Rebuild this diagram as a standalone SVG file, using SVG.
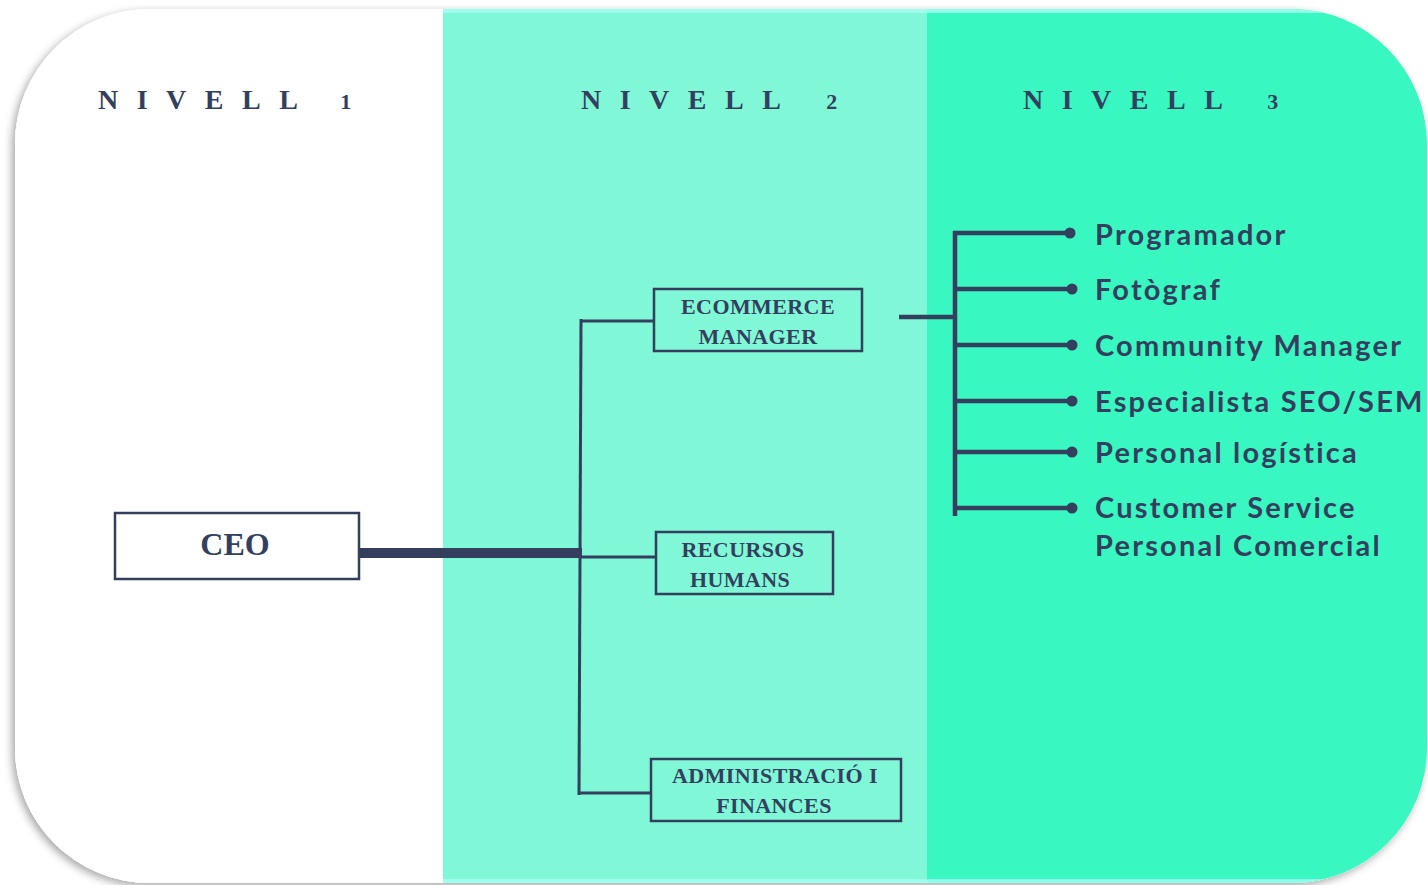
<svg xmlns="http://www.w3.org/2000/svg" width="1428" height="885" viewBox="0 0 1428 885">
  <defs>
    <clipPath id="card">
      <rect x="15" y="9" width="1412" height="874" rx="135" ry="135"/>
    </clipPath>
    <filter id="shadow" x="-5%" y="-5%" width="110%" height="110%">
      <feDropShadow dx="-3" dy="3" stdDeviation="4" flood-color="#000" flood-opacity="0.35"/>
    </filter>
    <style>
      .lvl { font-family: "Liberation Serif", "DejaVu Serif", serif; font-weight: bold; font-size: 28px; letter-spacing: 18.5px; fill: #343f5e; }
      .num { font-size: 22px; }
      .box { fill: none; stroke: #343f5e; stroke-width: 2.5; }
      .boxw { fill: #ffffff; stroke: #343f5e; stroke-width: 2.5; }
      .lbl { font-family: "Liberation Serif", "DejaVu Serif", serif; font-weight: bold; font-size: 22px; letter-spacing: 0.4px; fill: #343f5e; text-anchor: middle; }
      .ceo { font-family: "Liberation Serif", "DejaVu Serif", serif; font-weight: bold; font-size: 32px; fill: #343f5e; text-anchor: middle; }
      .role { font-family: Lato, "Open Sans", sans-serif; font-weight: bold; font-size: 29px; letter-spacing: 2.2px; fill: #343f5e; }
      .ln { stroke: #343f5e; fill: none; stroke-linecap: butt; }
      .dot { fill: #343f5e; }
    </style>
  </defs>

  <rect width="1428" height="885" fill="#ffffff"/>

  <!-- card background -->
  <g filter="url(#shadow)">
    <rect x="15" y="9" width="1412" height="874" rx="135" ry="135" fill="#ffffff"/>
  </g>
  <g clip-path="url(#card)">
    <rect x="15" y="9" width="428" height="874" fill="#ffffff"/>
    <rect x="443" y="9" width="484" height="874" fill="#80f7d6"/>
    <rect x="927" y="9" width="500" height="874" fill="#38f7c1"/>
    <rect x="443" y="9" width="984" height="4" fill="#a8fff4" opacity="0.8"/>
    <rect x="443" y="879" width="984" height="4" fill="#a8fff4" opacity="0.8"/>
  </g>

  <!-- level headings -->
  <text class="lvl" x="98" y="109">NIVELL <tspan class="num">1</tspan></text>
  <text class="lvl" x="581" y="109">NIVELL <tspan class="num" dx="3">2</tspan></text>
  <text class="lvl" x="1023" y="109">NIVELL <tspan class="num" dx="2">3</tspan></text>

  <!-- connectors -->
  <g id="connectors">
    <line class="ln" x1="359" y1="553" x2="582" y2="553" stroke-width="10"/>
    <line class="ln" x1="581" y1="319" x2="579" y2="795" stroke-width="3"/>
    <line class="ln" x1="580" y1="321" x2="654" y2="321" stroke-width="3"/>
    <line class="ln" x1="580" y1="557" x2="656" y2="557" stroke-width="3"/>
    <line class="ln" x1="578" y1="793" x2="651" y2="793" stroke-width="3"/>

    <line class="ln" x1="899" y1="317" x2="956" y2="317" stroke-width="4.5"/>
    <line class="ln" x1="955" y1="231" x2="955" y2="516" stroke-width="4.5"/>
    <line class="ln" x1="953" y1="233" x2="1070" y2="233" stroke-width="4.5"/>
    <line class="ln" x1="953" y1="289" x2="1072" y2="289" stroke-width="4.5"/>
    <line class="ln" x1="953" y1="345" x2="1072" y2="345" stroke-width="4.5"/>
    <line class="ln" x1="953" y1="401" x2="1072" y2="401" stroke-width="4.5"/>
    <line class="ln" x1="953" y1="452" x2="1072" y2="452" stroke-width="4.5"/>
    <line class="ln" x1="953" y1="508" x2="1072" y2="508" stroke-width="4.5"/>
    <circle class="dot" cx="1070" cy="233" r="5.5"/>
    <circle class="dot" cx="1072" cy="289" r="5.5"/>
    <circle class="dot" cx="1072" cy="345" r="5.5"/>
    <circle class="dot" cx="1072" cy="401" r="5.5"/>
    <circle class="dot" cx="1072" cy="452" r="5.5"/>
    <circle class="dot" cx="1072" cy="508" r="5.5"/>
  </g>

  <!-- nodes -->
  <g id="ceo">
    <rect class="boxw" x="115" y="513" width="244" height="66"/>
    <text class="ceo" x="235" y="555">CEO</text>
  </g>
  <g id="ecommerce">
    <rect class="box" x="654" y="289" width="208" height="62"/>
    <text class="lbl" x="758" y="314">ECOMMERCE</text>
    <text class="lbl" x="758" y="344">MANAGER</text>
  </g>
  <g id="rrhh">
    <rect class="box" x="656" y="532" width="177" height="62"/>
    <text class="lbl" x="743" y="557">RECURSOS</text>
    <text class="lbl" x="740" y="587">HUMANS</text>
  </g>
  <g id="admin">
    <rect class="box" x="651" y="759" width="250" height="62"/>
    <text class="lbl" x="775" y="783">ADMINISTRACIÓ I</text>
    <text class="lbl" x="774" y="813">FINANCES</text>
  </g>

  <g id="roles">
    <text class="role" x="1095" y="245">Programador</text>
    <text class="role" x="1095" y="300">Fotògraf</text>
    <text class="role" x="1095" y="356">Community Manager</text>
    <text class="role" x="1095" y="412">Especialista SEO/SEM</text>
    <text class="role" x="1095" y="463">Personal logística</text>
    <text class="role" x="1095" y="518">Customer Service</text>
    <text class="role" x="1095" y="556">Personal Comercial</text>
  </g>
</svg>
